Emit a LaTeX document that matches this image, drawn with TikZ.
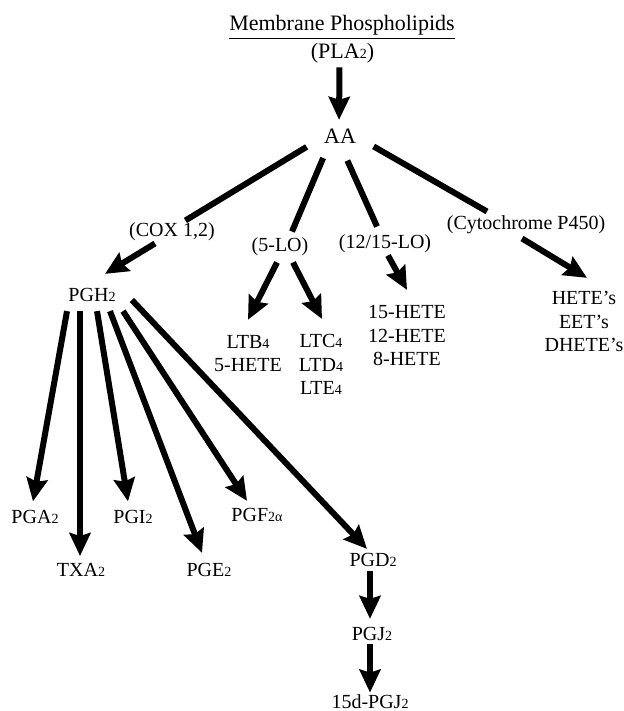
\documentclass[tikz,border=0pt]{standalone}
\usepackage{fontspec}
\setmainfont{Liberation Serif}
\usetikzlibrary{arrows.meta}
\newcommand{\sbs}[1]{{\fontsize{7}{7}\selectfont#1}}
\tikzset{
  lbl/.style={inner sep=0pt, font=\fontsize{10}{11.75}\selectfont, align=center},
  big/.style={inner sep=0pt, font=\fontsize{11}{13}\selectfont},
  link/.style={line width=3pt},
  arr/.style={line width=3pt, -{Stealth[length=11.5pt,width=10.5pt,inset=1.5pt]}}
}

\begin{document}
\begin{tikzpicture}[x=0.5pt,y=-0.5pt]
\useasboundingbox (0,0) rectangle (624,711);
\node[big, anchor=base] (title) at (342,31) {\underline{Membrane Phospholipids}};
\node[big] (pla) at (342.5,53) {(PLA\sbs{2})};
\node[big] (aa) at (340,136.5) {AA};
\node[lbl] (cox) at (172,232) {(COX 1,2)};
\node[lbl] (lo5) at (280,247) {(5-LO)};
\node[lbl] (lo1215) at (385,244) {(12/15-LO)};
\node[lbl] (cyp) at (526,225) {(Cytochrome P450)};
\node[lbl] (pgh) at (92,295) {PGH\sbs{2}};
\node[lbl] (ltb) at (248,353.5) {LTB\sbs{4}\\5-HETE};
\node[lbl] (ltc) at (321,364.5) {LTC\sbs{4}\\LTD\sbs{4}\\LTE\sbs{4}};
\node[lbl] (hete) at (407,335.5) {15-HETE\\12-HETE\\8-HETE};
\node[lbl] (eet) at (584,321.5) {HETE's\\EET's\\DHETE's};
\node[lbl] (pga) at (35,516.5) {PGA\sbs{2}};
\node[lbl] (txa) at (81,570) {TXA\sbs{2}};
\node[lbl] (pgi) at (133,516.5) {PGI\sbs{2}};
\node[lbl] (pge) at (209,570) {PGE\sbs{2}};
\node[lbl] (pgf) at (257,515) {PGF\sbs{2α}};
\node[lbl] (pgd) at (373,560) {PGD\sbs{2}};
\node[lbl] (pgj) at (372,634) {PGJ\sbs{2}};
\node[lbl] (dpgj) at (370,702) {15d-PGJ\sbs{2}};

\draw[arr, shorten <=2pt, shorten >=4.5pt] ([xshift=-1.5pt]pla.south) -- ([xshift=-0.5pt]aa.north);
\draw[link, shorten <=10pt, shorten >=2pt] (aa.west) -- ([xshift=5pt]cox.north);
\draw[link, shorten <=7.5pt] ([xshift=-5.5pt]aa.south) -- ([xshift=6pt,yshift=3pt]lo5.north);
\draw[link, shorten <=9pt] (aa.south) -- ([xshift=-4pt,yshift=4pt]lo1215.north);
\draw[link, shorten <=10pt] (aa.east) -- ([xshift=-19.5pt,yshift=2pt]cyp.north);

\draw[arr] ([xshift=-8.5pt,yshift=-1pt]cox.south) -- ([xshift=6.5pt,yshift=7pt]pgh.north);
\draw[arr] ([xshift=-1.5pt,yshift=-3pt]lo5.south) -- ([yshift=7.5pt]ltb.north);
\draw[arr] ([xshift=6.5pt,yshift=-3pt]lo5.south) -- ([xshift=0.5pt,yshift=7.5pt]ltc.north);
\draw[arr] ([xshift=1.5pt,yshift=-1pt]lo1215.south) -- ([yshift=7.5pt]hete.north);
\draw[arr] ([xshift=-2pt,yshift=-2pt]cyp.south) -- ([xshift=1.5pt,yshift=6.5pt]eet.north);

\foreach \to/\from/\dx/\dy in {pga/-12.5/-1/4, txa/-6/-0.5/3.5, pgi/2.5/-2.5/4, pge/9/-3.5/5, pgf/15.5/-5/3.5}
  \draw[arr] ([xshift=\from pt,yshift=-4.5pt]pgh.south) -- ([xshift=\dx pt,yshift=\dy pt]\to.north);
\draw[arr] ([xshift=8pt,yshift=-2.5pt]pgh.east) -- ([xshift=-3pt,yshift=2pt]pgd.north);
\draw[arr] ([xshift=-1.5pt,yshift=-2pt]pgd.south) -- ([xshift=-1pt,yshift=4pt]pgj.north);
\draw[arr] ([xshift=-1pt,yshift=-1.5pt]pgj.south) -- ([yshift=1pt]dpgj.north);
\end{tikzpicture}
\end{document}
